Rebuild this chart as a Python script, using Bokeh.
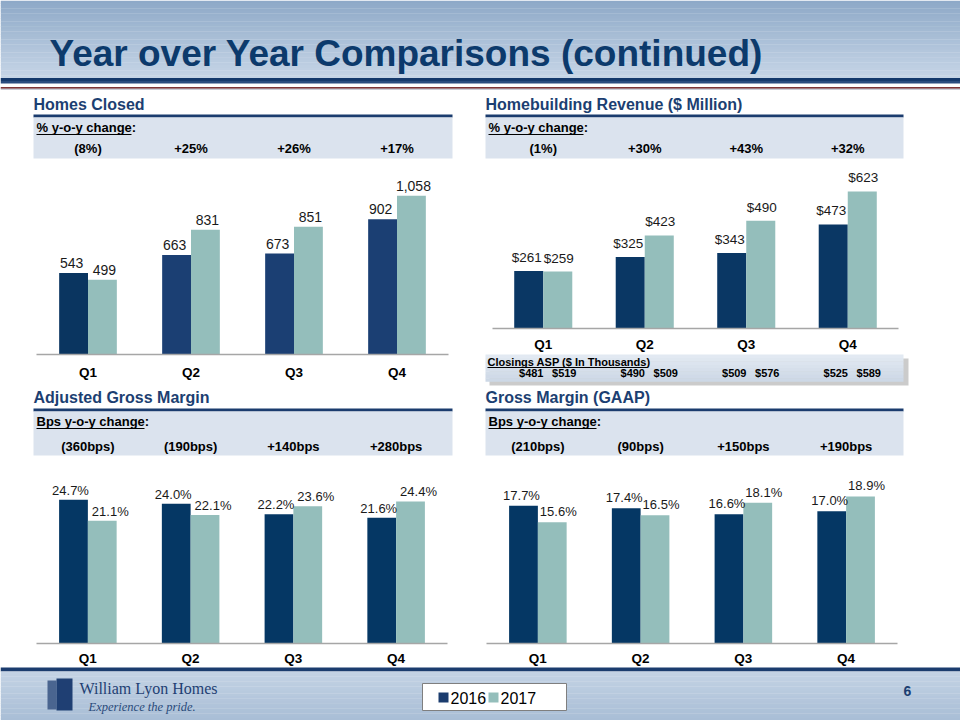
import numpy as np
from bokeh.plotting import figure
from bokeh.models import Range1d
from bokeh.core.properties import value
from bokeh.embed import file_html
from bokeh.resources import INLINE

# ---------------- data ----------------
quarters = ["Q1", "Q2", "Q3", "Q4"]
years = ["2016", "2017"]

homes_2016 = [543, 663, 673, 902]
homes_2017 = [499, 831, 851, 1058]
homes_change = ["(8%)", "+25%", "+26%", "+17%"]

revenue_2016 = [261, 325, 343, 473]
revenue_2017 = [259, 423, 490, 623]
revenue_change = ["(1%)", "+30%", "+43%", "+32%"]

asp_2016 = [481, 490, 509, 525]
asp_2017 = [519, 509, 576, 589]

adj_gm_2016 = [24.7, 24.0, 22.2, 21.6]
adj_gm_2017 = [21.1, 22.1, 23.6, 24.4]
adj_gm_change = ["(360bps)", "(190bps)", "+140bps", "+280bps"]

gaap_gm_2016 = [17.7, 17.4, 16.6, 17.0]
gaap_gm_2017 = [15.6, 16.5, 18.1, 18.9]
gaap_gm_change = ["(210bps)", "(90bps)", "+150bps", "+190bps"]

# ---------------- styles ----------------
SANS = value("Liberation Sans")
SERIF = value("Liberation Serif")
NAVY = "#0a3764"
TEAL = "#94bebb"
HEAD = "#1c3f72"
LINE_NAVY = "#1b3c6e"
PANEL = "#dbe3ee"

X0, X1, Y0, Y1 = 0, 960, 0, 720   # slide pixel coords

p = figure(width=960, height=720, x_range=Range1d(X0, X1), y_range=Range1d(Y1, Y0),
           output_backend="svg", toolbar_location=None, min_border=0,
           x_axis_location=None, y_axis_location=None)
p.grid.visible = False
p.outline_line_color = None
p.background_fill_color = "white"
p.border_fill_color = "white"


def hexmix(c1, c2, t):
    a = [int(c1[i:i + 2], 16) for i in (1, 3, 5)]
    b = [int(c2[i:i + 2], 16) for i in (1, 3, 5)]
    return "#%02x%02x%02x" % tuple(int(round(a[j] + (b[j] - a[j]) * t)) for j in range(3))


def gradient_band(top, bottom, c_top, c_bot, n=30):
    edges = np.linspace(top, bottom, n + 1)
    cols = [hexmix(c_top, c_bot, i / (n - 1)) for i in range(n)]
    p.quad(left=X0, right=X1, top=edges[:-1], bottom=edges[1:] + 0.3,
           fill_color=cols, line_color=None)


# ---------------- title band ----------------
gradient_band(Y0, 77.5, "#8ea9c8", "#c6d5e6")
p.quad(left=X0, right=X1, top=77.5, bottom=80.5, fill_color="#163a6c", line_color=None)
p.quad(left=X0, right=X1, top=80.5, bottom=83, fill_color="#2a4c7e", line_color=None)
p.quad(left=X0, right=X1, top=86.5, bottom=88.2, fill_color="#7d3536", line_color=None)
p.quad(left=X0, right=X1, top=88.2, bottom=89.2, fill_color="#b9bcc8", line_color=None)
p.text(x=[49], y=[53], text=["Year over Year Comparisons (continued)"], text_font=SANS,
       text_font_style="bold", text_font_size="37px", text_color="#0c3a6c",
       text_baseline="middle", text_align="left")

# ---------------- footer band ----------------
p.quad(left=X0, right=X1, top=667, bottom=671, fill_color=LINE_NAVY, line_color=None)
gradient_band(671, Y1, "#c3d2e4", "#a9bed6", n=20)

# logo
p.quad(left=[47, 56], right=[56, 72], top=[680, 678], bottom=[709, 710],
       fill_color=["#4a6590", "#1f3f73"], line_color=None)
p.text(x=[79], y=[688], text=["William Lyon Homes"], text_font=SERIF,
       text_font_size="16px", text_color="#1f3f73", text_baseline="middle")
p.text(x=[88], y=[706], text=["Experience the pride."], text_font=SERIF,
       text_font_style="italic", text_font_size="12.5px", text_color="#2a4a7a",
       text_baseline="middle")
p.text(x=[907], y=[690], text=["6"], text_font=SANS, text_font_style="bold",
       text_font_size="14px", text_color=HEAD, text_baseline="middle", text_align="center")

# legend
p.quad(left=422, right=566, top=683, bottom=710, fill_color="white", line_color="#7f7f7f",
       line_width=1)
p.quad(left=[438, 488], right=[448, 498], top=[692, 692], bottom=[702, 702],
       fill_color=[LINE_NAVY, TEAL], line_color=None)
p.text(x=[450, 500], y=[697.5, 697.5], text=years, text_font=SANS, text_font_size="16px",
       text_color="black", text_baseline="middle", text_align="left")


# ---------------- section headers ----------------
def section_header(title, x_left, x_right, title_y, line_top, panel_bottom, caption, cap_width):
    p.text(x=[x_left], y=[title_y], text=[title], text_font=SANS, text_font_style="bold",
           text_font_size="16px", text_color=HEAD, text_baseline="middle")
    p.quad(left=x_left, right=x_right, top=line_top, bottom=line_top + 3,
           fill_color=LINE_NAVY, line_color=None)
    p.quad(left=x_left, right=x_right, top=line_top + 3, bottom=panel_bottom,
           fill_color=PANEL, line_color=None)
    cy = line_top + 13
    p.text(x=[x_left + 3], y=[cy], text=[caption + ":"], text_font=SANS,
           text_font_style="bold", text_font_size="13px", text_color="black",
           text_baseline="middle")
    p.segment(x0=[x_left + 3], x1=[x_left + 3 + cap_width], y0=[cy + 7], y1=[cy + 7],
              line_color="black", line_width=1)


section_header("Homes Closed", 33, 452, 104, 114, 158, "% y-o-y change", 95)
section_header("Homebuilding Revenue ($ Million)", 485, 903, 104, 114, 158, "% y-o-y change", 95)
section_header("Adjusted Gross Margin", 33, 452, 397, 408, 455, "Bps y-o-y change", 108)
section_header("Gross Margin (GAAP)", 485, 903, 397, 408, 455, "Bps y-o-y change", 108)


# ---------------- charts ----------------
def chart(name, x0, w, base, k, v16, v17, labels16, labels17, colors16, change, change_y,
          label_size, dx16, dx17, gap, q_off, bar_w):
    xr, yr = name + "_x", name + "_y"
    p.extra_x_ranges = {**p.extra_x_ranges, xr: Range1d(start=(X0 - x0) / w, end=(X1 - x0) / w)}
    p.extra_y_ranges = {**p.extra_y_ranges, yr: Range1d(start=(base - Y1) / k, end=(base - Y0) / k)}
    xs = np.arange(len(quarters)) + 0.5
    d = bar_w / 2
    p.vbar(x=xs - d, top=v16, bottom=0, width=bar_w, fill_color=colors16, line_color=None,
           x_range_name=xr, y_range_name=yr)
    p.vbar(x=xs + d, top=v17, bottom=0, width=bar_w, fill_color=TEAL, line_color=None,
           x_range_name=xr, y_range_name=yr)
    p.segment(x0=[0], x1=[len(quarters)], y0=[0], y1=[0], line_color="#a6a6a6",
              line_width=1.3, x_range_name=xr, y_range_name=yr)
    p.text(x=xs - d, y=v16, text=labels16, x_offset=dx16, y_offset=-gap, text_font=SANS,
           text_font_size=label_size, text_color="#1a1a1a", text_align="center",
           text_baseline="bottom", x_range_name=xr, y_range_name=yr)
    p.text(x=xs + d, y=v17, text=labels17, x_offset=dx17, y_offset=-gap, text_font=SANS,
           text_font_size=label_size, text_color="#1a1a1a", text_align="center",
           text_baseline="bottom", x_range_name=xr, y_range_name=yr)
    p.text(x=xs, y=[0] * len(quarters), text=quarters, y_offset=q_off, text_font=SANS,
           text_font_style="bold", text_font_size="13.5px", text_color="black",
           text_align="center", text_baseline="middle", x_range_name=xr, y_range_name=yr)
    # y-o-y change row in the header panel above
    p.text(x=xs, y=[change_y] * len(quarters), text=change, text_font=SANS,
           text_font_style="bold", text_font_size="13px", text_color="black",
           text_align="center", text_baseline="middle", x_range_name=xr)
    return xr, xs


chart("homes", 36, 103, 354, 0.15, homes_2016, homes_2017,
      [f"{v:,}" for v in homes_2016], [f"{v:,}" for v in homes_2017],
      ["#0a3560", "#1b3f73", "#1b3f73", "#1b3f73"], homes_change, 148,
      "14px", -2, 2, 5, 18, 0.28)

rev_xr, rev_xs = chart("rev", 492, 101.5, 328, 0.22, revenue_2016, revenue_2017,
                       [f"${v}" for v in revenue_2016], [f"${v}" for v in revenue_2017],
                       NAVY, revenue_change, 148, "13.5px", -2, 1, 6, 16, 0.286)

chart("adj", 36, 102.75, 643, 5.82, adj_gm_2016, adj_gm_2017,
      [f"{v:.1f}%" for v in adj_gm_2016], [f"{v:.1f}%" for v in adj_gm_2017],
      "#053764", adj_gm_change, 446, "13px", -3, 8, 2, 15, 0.28)

chart("gaap", 486, 102.75, 643, 7.78, gaap_gm_2016, gaap_gm_2017,
      [f"{v:.1f}%" for v in gaap_gm_2016], [f"{v:.1f}%" for v in gaap_gm_2017],
      "#053764", gaap_gm_change, 446, "13px", -2, 6, 3, 15, 0.28)

# ---------------- closings ASP box ----------------
p.quad(left=489, right=908, top=358, bottom=385, fill_color="#8c8c8c", fill_alpha=0.45,
       line_color=None)
gbox = np.linspace(354, 381, 9)
p.quad(left=485, right=903, top=gbox[:-1], bottom=gbox[1:] + 0.3,
       fill_color=[hexmix("#e2e9f2", "#cdd8e6", i / 7) for i in range(8)], line_color=None)
p.text(x=[487], y=[361.5], text=["Closings ASP ($ In Thousands)"], text_font=SANS,
       text_font_style="bold", text_font_size="11px", text_color="black",
       text_baseline="middle")
p.segment(x0=[487], x1=[647], y0=[367], y1=[367], line_color="black", line_width=1)
p.text(x=rev_xs, y=[372.5] * 4, text=[f"${v}" for v in asp_2016], x_offset=-12,
       text_font=SANS, text_font_style="bold", text_font_size="11px", text_color="black",
       text_align="center", text_baseline="middle", x_range_name=rev_xr)
p.text(x=rev_xs, y=[372.5] * 4, text=[f"${v}" for v in asp_2017], x_offset=21,
       text_font=SANS, text_font_style="bold", text_font_size="11px", text_color="black",
       text_align="center", text_baseline="middle", x_range_name=rev_xr)

open("out.html", "w").write(file_html(p, INLINE))
